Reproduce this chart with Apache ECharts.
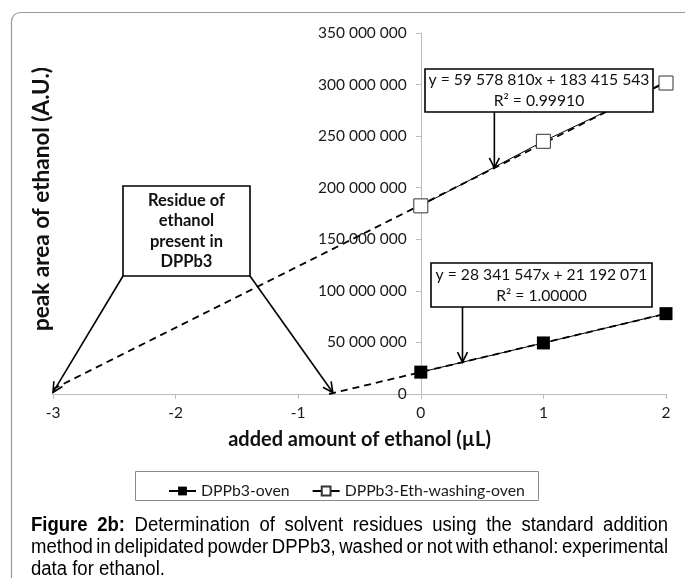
<!DOCTYPE html>
<html>
<head>
<meta charset="utf-8">
<script src="https://cdn.jsdelivr.net/npm/echarts@6/dist/echarts.min.js"></script>
<style>
  html, body { margin: 0; padding: 0; background: #fff; }
  #chart { width: 685px; height: 578px; }
</style>
</head>
<body>
<div id="chart"></div>
<script>
// Added ethanol (µL) and measured peak areas
const addedVolume = [0, 1, 2];
const ovenArea = [21200000, 49500000, 77900000];
const washArea = [182400000, 245000000, 301500000];
const seriesNames = ['DPPb3-oven', 'DPPb3-Eth-washing-oven'];

// Linear fits: [slope, intercept] and R²
const ovenFit = [28341547, 21192071];
const washFit = [59578810, 183415543];
const ovenR2 = '1.00000';
const washR2 = '0.99910';

// Axis ticks
const xTicks = [-3, -2, -1, 0, 1, 2];
const yTicks = [0, 50000000, 100000000, 150000000, 200000000, 250000000, 300000000, 350000000];

const captionLines = [
  'Figure 2b: Determination of solvent residues using the standard addition',
  'method in delipidated powder DPPb3, washed or not with ethanol: experimental',
  'data for ethanol.'
];
const captionBoldWords = 2;

const FONT = 'Lato, "Noto Sans", sans-serif';
const CAP_FONT = '"Liberation Sans", Arial, sans-serif';
const AXIS_GREY = '#bcbcbc';

const GRID = { left: 53, right: 19, top: 33, bottom: 184 };
const W = 685;

function spaced(n) {
  return String(Math.round(n)).replace(/\B(?=(\d{3})+(?!\d))/g, '\u00a0');
}
function fitAt(fit, x) { return fit[0] * x + fit[1]; }
function equation(fit) { return 'y = ' + spaced(fit[0]) + 'x + ' + spaced(fit[1]); }

const chart = echarts.init(document.getElementById('chart'), null, { renderer: 'canvas' });

// Trendlines: the washed one is projected back to the axis minimum,
// the oven one back to its x-intercept
const xMin = xTicks[0], xMax = xTicks[xTicks.length - 1];
const washTrend = [[xMin, fitAt(washFit, xMin)], [addedVolume[2], fitAt(washFit, addedVolume[2])]];
const ovenX0 = -ovenFit[1] / ovenFit[0];
const ovenTrend = [[ovenX0, 0], [addedVolume[2], fitAt(ovenFit, addedVolume[2])]];

// the vertical axis sits at x = 0, so shift it right from the grid's left edge
const gridWidth = W - GRID.left - GRID.right;
const yAxisShift = -(0 - xMin) / (xMax - xMin) * gridWidth;

const axisText = { fontFamily: FONT, fontSize: 15.5, color: '#1a1a1a' };

chart.setOption({
  animation: false,
  backgroundColor: '#fff',
  grid: Object.assign({ outerBoundsMode: 'none', containLabel: false }, GRID),
  xAxis: {
    type: 'value',
    min: xMin, max: xMax, interval: 1,
    axisLine: { onZero: true, lineStyle: { color: AXIS_GREY, width: 1 } },
    axisTick: { show: true, length: 5, lineStyle: { color: AXIS_GREY } },
    axisLabel: Object.assign({ margin: 11, formatter: v => String(v) }, axisText),
    splitLine: { show: false },
    name: 'added amount of ethanol (µL)',
    nameLocation: 'middle', nameGap: 36,
    nameTextStyle: { fontFamily: FONT, fontSize: 20, fontWeight: 'bold', color: '#111' }
  },
  yAxis: {
    type: 'value', position: 'left', offset: yAxisShift,
    min: yTicks[0], max: yTicks[yTicks.length - 1], interval: yTicks[1] - yTicks[0],
    axisLine: { show: true, onZero: false, lineStyle: { color: AXIS_GREY, width: 1 } },
    axisTick: { show: true, length: 5, lineStyle: { color: AXIS_GREY } },
    axisLabel: Object.assign({ margin: 14, formatter: v => spaced(v) }, axisText),
    splitLine: { show: false }
  },
  legend: {
    data: seriesNames,
    left: 163, top: 478,
    itemWidth: 27, itemHeight: 11, itemGap: 22,
    textStyle: { fontFamily: FONT, fontSize: 15.8, color: '#1a1a1a' }
  },
  series: [
    {
      name: 'ovenTrend', type: 'line', data: ovenTrend, symbol: 'none', silent: true, z: 1,
      lineStyle: { color: '#000', width: 1.8, type: [7, 5] }
    },
    {
      name: 'washTrend', type: 'line', data: washTrend, symbol: 'none', silent: true, z: 1,
      lineStyle: { color: '#000', width: 1.8, type: [7, 5] }
    },
    {
      name: seriesNames[0], type: 'line', z: 3,
      data: addedVolume.map((x, i) => [x, ovenArea[i]]),
      symbol: 'rect', symbolSize: 13,
      lineStyle: { color: '#000', width: 1 },
      itemStyle: { color: '#000', borderColor: '#000', borderWidth: 0 }
    },
    {
      name: seriesNames[1], type: 'line', z: 3,
      data: addedVolume.map((x, i) => [x, washArea[i]]),
      symbol: 'rect', symbolSize: 14,
      lineStyle: { color: '#000', width: 1 },
      itemStyle: { color: '#fff', borderColor: '#333', borderWidth: 1 }
    }
  ]
});

// ---- annotations: callout boxes and arrows ----
function px(x, y) { return chart.convertToPixel({ gridIndex: 0 }, [x, y]); }

function arrow(p0, p1) {
  const dx = p1[0] - p0[0], dy = p1[1] - p0[1];
  const len = Math.hypot(dx, dy), ux = dx / len, uy = dy / len;
  const hl = 10, hw = 5;
  const a = [p1[0] - ux * hl - uy * hw, p1[1] - uy * hl + ux * hw];
  const b = [p1[0] - ux * hl + uy * hw, p1[1] - uy * hl - ux * hw];
  return [
    { type: 'line', z: 50, shape: { x1: p0[0], y1: p0[1], x2: p1[0], y2: p1[1] }, style: { stroke: '#000', lineWidth: 1.6 } },
    { type: 'polyline', z: 50, shape: { points: [a, p1, b] }, style: { stroke: '#000', lineWidth: 1.6, fill: null } }
  ];
}

function box(x, y, w, h, text, opts) {
  return [
    { type: 'rect', z: 50, shape: { x: x, y: y, width: w, height: h },
      style: { fill: '#fff', stroke: '#000', lineWidth: 1.6 } },
    { type: 'text', z: 51, style: Object.assign({
        text: text, x: x + w / 2, y: y + h / 2, align: 'center', verticalAlign: 'middle',
        fontFamily: FONT, fontSize: 15.7, fill: '#111', lineHeight: 21
      }, opts || {}) }
  ];
}

const g = [];
// outer frame (rounded top-left corner)
g.push({ type: 'rect', z: 0, shape: { x: 11.5, y: 12.5, width: 720, height: 620, r: 9 },
  style: { fill: null, stroke: '#9a9a9a', lineWidth: 1.2 } });

// washed-sample fit
const washBox = [425, 69, 228, 43];
g.push(...box(washBox[0], washBox[1], washBox[2], washBox[3], equation(washFit) + '\nR² = ' + washR2));
const washTip = px(0.6, fitAt(washFit, 0.6));
g.push(...arrow([washTip[0], washBox[1] + washBox[3]], washTip));

// oven sample fit
const ovenBox = [431, 263, 221, 44];
g.push(...box(ovenBox[0], ovenBox[1], ovenBox[2], ovenBox[3], equation(ovenFit) + '\nR² = ' + ovenR2));
const ovenTip = px(0.34, fitAt(ovenFit, 0.34));
g.push(...arrow([ovenTip[0], ovenBox[1] + ovenBox[3]], ovenTip));

// residue callout pointing at both x-intercepts
const resBox = [123, 186, 127, 90];
g.push(...box(resBox[0], resBox[1], resBox[2], resBox[3], 'Residue of\nethanol\npresent in\nDPPb3',
  { fontWeight: 'bold', fontSize: 16.5, lineHeight: 20.5 }));
const tipA = px(xMin, 1500000);
const tipB = px(ovenX0 + 0.03, 1500000);
g.push(...arrow([resBox[0], resBox[1] + resBox[3]], tipA));
g.push(...arrow([resBox[0] + resBox[2], resBox[1] + resBox[3]], tipB));

// legend frame
g.push({ type: 'rect', z: 0, shape: { x: 135.5, y: 471.5, width: 403, height: 29 },
  style: { fill: null, stroke: '#8a8a8a', lineWidth: 1 } });

// y-axis title
g.push({ type: 'text', z: 10, x: 42, y: 199, rotation: Math.PI / 2,
  style: { text: 'peak area of ethanol (A.U.)', align: 'center', verticalAlign: 'middle',
    fontFamily: FONT, fontSize: 22.5, fontWeight: 'bold', fill: '#111' } });

// caption, justified across its width
const capLeft = 31, capRight = 668, capTop = 526, capStep = 22, capSize = 19.5, capScale = 0.95;
const mctx = document.createElement('canvas').getContext('2d');
function capFont(bold) { return (bold ? 'bold ' : '') + capSize + 'px ' + CAP_FONT; }
captionLines.forEach((line, li) => {
  const words = line.split(' ');
  const widths = words.map((w, wi) => {
    mctx.font = capFont(li === 0 && wi < captionBoldWords);
    return mctx.measureText(w).width * capScale;
  });
  const total = widths.reduce((a, b) => a + b, 0);
  mctx.font = capFont(false);
  const justify = li < captionLines.length - 1;
  const gap = justify ? (capRight - capLeft - total) / (words.length - 1) : mctx.measureText(' ').width * capScale;
  let x = capLeft;
  words.forEach((w, wi) => {
    const bold = li === 0 && wi < captionBoldWords;
    g.push({ type: 'text', z: 10, x: x, y: capTop + li * capStep, scaleX: capScale,
      style: { text: w, x: 0, y: 0, align: 'left', verticalAlign: 'middle',
        fontFamily: CAP_FONT, fontSize: capSize, fontWeight: bold ? 'bold' : 'normal', fill: '#000' } });
    x += widths[wi] + gap;
  });
});

chart.setOption({ graphic: g });
</script>
</body>
</html>
